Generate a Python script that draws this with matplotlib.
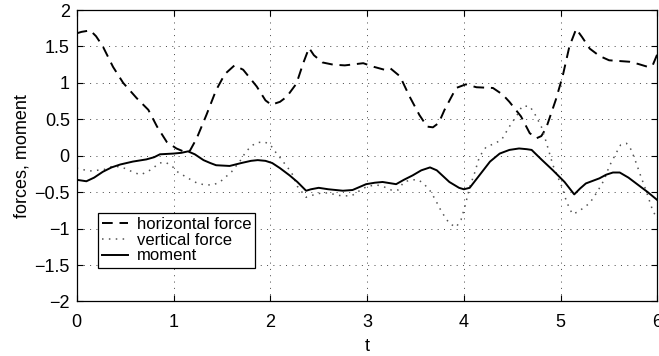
import matplotlib
matplotlib.use("Agg")
import matplotlib.pyplot as plt

# Horizontal force samples (time, value)
t_horiz = [0.0, 0.05, 0.14, 0.2, 0.27, 0.375, 0.48, 0.62, 0.74, 0.83, 0.93, 1.03, 1.12, 1.17,
           1.24, 1.34, 1.44, 1.53, 1.63, 1.72, 1.86, 1.95, 2.01, 2.10, 2.17, 2.27, 2.34, 2.40,
           2.45, 2.54, 2.65, 2.77, 2.96, 3.07, 3.18, 3.24, 3.34, 3.44, 3.54, 3.62, 3.68, 3.74,
           3.80, 3.92, 4.02, 4.13, 4.30, 4.40, 4.47, 4.59, 4.68, 4.75, 4.80, 4.85, 4.95, 5.02,
           5.09, 5.16, 5.22, 5.30, 5.40, 5.50, 5.71, 5.80, 5.90, 5.95, 6.0]
horizontal_force = [1.68, 1.70, 1.72, 1.64, 1.50, 1.22, 1.00, 0.79, 0.63, 0.40, 0.19, 0.10, 0.05, 0.07,
                    0.24, 0.56, 0.90, 1.12, 1.24, 1.18, 0.95, 0.76, 0.70, 0.74, 0.81, 0.99, 1.27, 1.48,
                    1.38, 1.28, 1.25, 1.24, 1.27, 1.22, 1.18, 1.20, 1.09, 0.81, 0.56, 0.40, 0.39, 0.45,
                    0.63, 0.93, 0.98, 0.94, 0.93, 0.84, 0.74, 0.54, 0.31, 0.24, 0.27, 0.38, 0.77, 1.09,
                    1.50, 1.74, 1.63, 1.47, 1.37, 1.31, 1.29, 1.26, 1.22, 1.24, 1.40]

# Vertical force samples (time, value)
t_vert = [0.0, 0.13, 0.28, 0.36, 0.45, 0.51, 0.59, 0.66, 0.73, 0.79, 0.85, 0.92, 0.99, 1.05, 1.09,
          1.18, 1.25, 1.33, 1.41, 1.48, 1.54, 1.60, 1.70, 1.74, 1.80, 1.86, 1.94, 2.00, 2.06, 2.11,
          2.16, 2.22, 2.28, 2.37, 2.44, 2.53, 2.61, 2.68, 2.75, 2.84, 2.91, 3.00, 3.10, 3.18, 3.25,
          3.32, 3.38, 3.46, 3.53, 3.59, 3.65, 3.70, 3.77, 3.85, 3.92, 3.97, 4.01, 4.06, 4.11, 4.15,
          4.19, 4.23, 4.32, 4.39, 4.47, 4.56, 4.60, 4.68, 4.73, 4.80, 4.85, 4.92, 4.97, 5.02, 5.06,
          5.12, 5.18, 5.30, 5.38, 5.45, 5.50, 5.57, 5.62, 5.68, 5.73, 5.78, 5.83, 5.88, 5.95, 6.0]
vertical_force = [-0.17, -0.21, -0.19, -0.15, -0.15, -0.18, -0.23, -0.26, -0.22, -0.17, -0.10, -0.09,
                  -0.15, -0.23, -0.26, -0.33, -0.38, -0.40, -0.40, -0.36, -0.29, -0.22, -0.05, 0.04,
                  0.13, 0.18, 0.19, 0.15, 0.04, -0.04, -0.13, -0.23, -0.42, -0.57, -0.54, -0.51,
                  -0.51, -0.54, -0.55, -0.55, -0.49, -0.42, -0.40, -0.43, -0.47, -0.47, -0.36, -0.33,
                  -0.33, -0.39, -0.48, -0.59, -0.77, -0.93, -0.98, -0.88, -0.70, -0.43, -0.24, -0.06,
                  0.05, 0.12, 0.17, 0.22, 0.40, 0.58, 0.68, 0.68, 0.58, 0.40, 0.19, -0.13, -0.29,
                  -0.45, -0.63, -0.80, -0.77, -0.65, -0.49, -0.33, -0.15, 0.03, 0.15, 0.17, 0.08,
                  -0.10, -0.29, -0.47, -0.75, -0.87]

# Moment samples (time, value)
t_moment = [0.0, 0.05, 0.10, 0.18, 0.27, 0.36, 0.45, 0.58, 0.72, 0.80, 0.86, 1.0, 1.08, 1.15, 1.22,
            1.31, 1.38, 1.44, 1.58, 1.70, 1.80, 1.87, 1.95, 2.02, 2.10, 2.20, 2.28, 2.37, 2.42,
            2.50, 2.60, 2.75, 2.85, 2.99, 3.08, 3.16, 3.30, 3.38, 3.47, 3.56, 3.65, 3.72, 3.85,
            3.95, 4.0, 4.06, 4.13, 4.20, 4.27, 4.37, 4.47, 4.57, 4.65, 4.70, 4.80, 4.92, 5.04,
            5.14, 5.20, 5.26, 5.40, 5.47, 5.54, 5.61, 5.70, 5.78, 5.90, 6.0]
moment = [-0.33, -0.34, -0.35, -0.30, -0.22, -0.16, -0.12, -0.08, -0.05, -0.02, 0.02, 0.03, 0.04,
          0.06, 0.02, -0.06, -0.10, -0.13, -0.14, -0.10, -0.07, -0.06, -0.07, -0.10, -0.17, -0.27,
          -0.36, -0.48, -0.46, -0.44, -0.46, -0.48, -0.47, -0.39, -0.37, -0.36, -0.39, -0.33,
          -0.27, -0.20, -0.16, -0.20, -0.36, -0.44, -0.46, -0.44, -0.32, -0.20, -0.08, 0.03,
          0.08, 0.10, 0.09, 0.08, -0.05, -0.20, -0.36, -0.53, -0.45, -0.38, -0.31, -0.26, -0.23,
          -0.23, -0.30, -0.38, -0.50, -0.61]

x_ticks = [0, 1, 2, 3, 4, 5, 6]
y_ticks = [-2, -1.5, -1, -0.5, 0, 0.5, 1, 1.5, 2]
y_tick_labels = ["\u22122", "\u22121.5", "\u22121", "\u22120.5", "0", "0.5", "1", "1.5", "2"]

plt.rcParams["font.family"] = ["Liberation Sans", "DejaVu Sans"]
plt.rcParams["font.size"] = 13

fig = plt.figure(figsize=(6.59, 3.56), dpi=100)
ax = fig.add_axes([0.1164, 0.1531, 0.8813, 0.8188])

ax.plot(t_horiz, horizontal_force, color="black", linewidth=1.4,
        dashes=(5.5, 3.5), label="horizontal force")
ax.plot(t_vert, vertical_force, color="#555555", linewidth=1.1,
        dashes=(1, 3.5), label="vertical force")
ax.plot(t_moment, moment, color="black", linewidth=1.4, label="moment")

ax.set_xlim(0, 6)
ax.set_ylim(-2, 2)
ax.set_xticks(x_ticks)
ax.set_xticklabels([str(v) for v in x_ticks])
ax.set_yticks(y_ticks)
ax.set_yticklabels(y_tick_labels)

ax.grid(True, color="#444444", linestyle=(0, (1, 5.5)), linewidth=0.7)
ax.tick_params(direction="in", length=4, width=0.8, top=True, right=True, colors="black",
               labelsize=13)
ax.tick_params(axis="x", pad=9)
ax.tick_params(axis="y", pad=5)
for s in ax.spines.values():
    s.set_linewidth(0.9)
    s.set_color("black")

ax.set_xlabel("t", labelpad=5)
ax.set_ylabel("forces, moment", labelpad=3)

leg = ax.legend(loc="upper left", bbox_to_anchor=(0.036, 0.305), borderaxespad=0,
                fancybox=False, edgecolor="black", framealpha=1, handlelength=1.6,
                handletextpad=0.5, labelspacing=0.05, borderpad=0.25, fontsize=12)
leg.get_frame().set_linewidth(0.9)

fig.savefig("out.png", dpi=100)
